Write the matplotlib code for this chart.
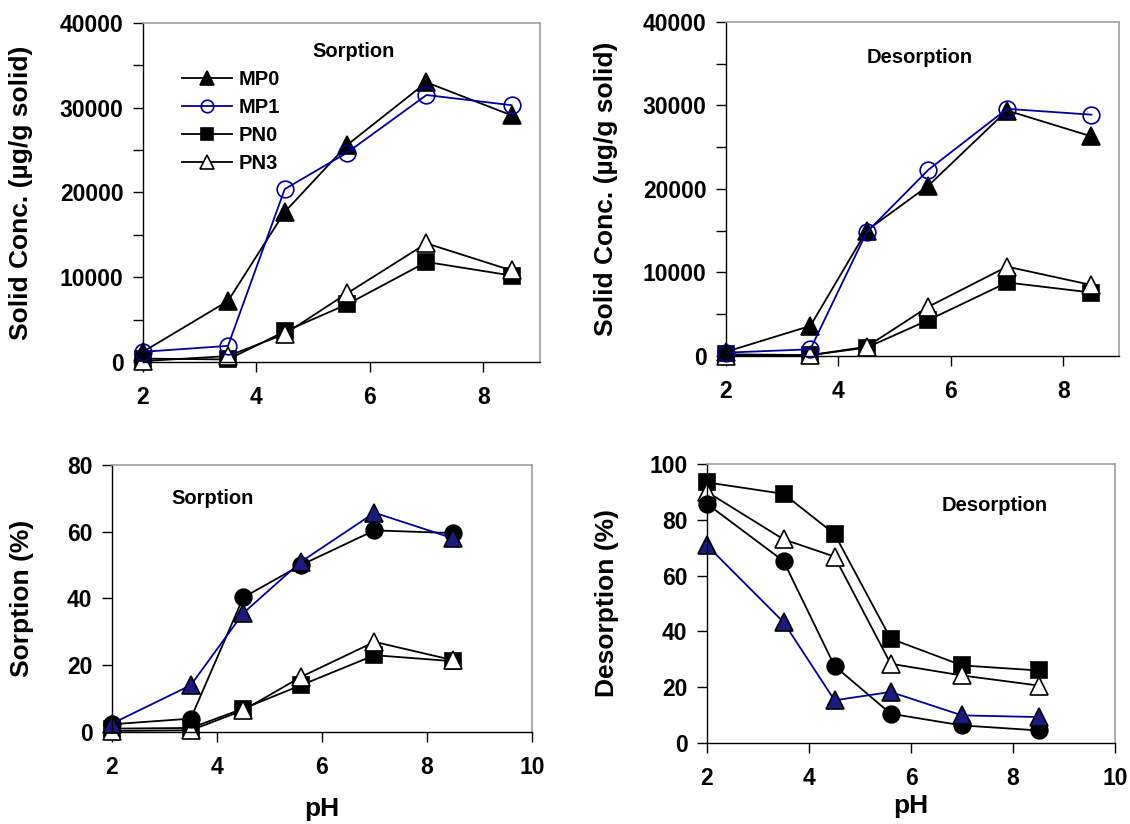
import matplotlib
matplotlib.use("Agg")
import matplotlib.pyplot as plt
from matplotlib.ticker import MultipleLocator

plt.rcParams["font.family"] = ["Liberation Sans", "DejaVu Sans"]
plt.rcParams["font.weight"] = "bold"

# pH values (same for all series)
ph = [2, 3.5, 4.5, 5.6, 7, 8.5]

# solid concentration, sorption (ug/g solid)
sorb_mp0 = [1200, 7200, 17700, 25600, 33000, 29100]
sorb_mp1 = [1200, 1900, 20400, 24700, 31500, 30300]
sorb_pn0 = [400, 300, 3600, 6800, 11800, 10200]
sorb_pn3 = [100, 700, 3300, 8100, 14000, 10800]

# solid concentration, desorption (ug/g solid)
des_mp0 = [500, 3600, 15000, 20400, 29400, 26300]
des_mp1 = [400, 800, 14800, 22300, 29600, 28900]
des_pn0 = [200, 100, 1000, 4300, 8800, 7600]
des_pn3 = [0, 100, 1100, 5900, 10700, 8500]

# sorption (%)
sorb_pct_blue = [2.5, 14, 35.6, 51, 65.7, 58]
sorb_pct_circ = [2.3, 4.0, 40.3, 50, 60.4, 59.6]
sorb_pct_sq = [1.0, 1.2, 7.0, 14, 23, 21.2]
sorb_pct_open = [0.3, 0.5, 6.5, 16.5, 27, 21.5]

# desorption (%)
des_pct_sq = [93.4, 89.3, 74.9, 37.4, 27.8, 26]
des_pct_open = [90, 73, 66.8, 28.4, 24.2, 20.6]
des_pct_circ = [85.7, 65.2, 27.6, 10.5, 6.3, 4.5]
des_pct_blue = [70.8, 43.3, 15.3, 18.3, 9.9, 9.3]

legend_labels = ["MP0", "MP1", "PN0", "PN3"]

BLUE = "#000099"
NAVY = "#1a1a80"
TICK_FS = 16.5
LABEL_FS = 19
NOTE_FS = 14.5

fig = plt.figure(figsize=(11.3, 8.24), dpi=100)
ax1 = fig.add_axes([0.1265, 0.5607, 0.3513, 0.4114])
ax2 = fig.add_axes([0.6425, 0.568, 0.3482, 0.4053])
ax3 = fig.add_axes([0.0991, 0.1117, 0.3717, 0.324])
ax4 = fig.add_axes([0.6257, 0.0983, 0.3611, 0.3386])


def style(ax, xmax):
    for s in ["top", "right"]:
        ax.spines[s].set_color("#a0a0a0")
        ax.spines[s].set_linewidth(1.2)
    for s in ["left", "bottom"]:
        ax.spines[s].set_color("black")
        ax.spines[s].set_linewidth(1.0)
    ax.set_xlim(2, xmax)
    ax.xaxis.set_major_locator(MultipleLocator(2))
    ax.tick_params(axis="x", which="both", direction="out", length=7,
                   width=1, pad=10, labelsize=TICK_FS)
    ax.tick_params(axis="y", which="both", direction="out", length=7,
                   width=1, pad=7, labelsize=TICK_FS)
    for lab in ax.get_xticklabels() + ax.get_yticklabels():
        lab.set_fontweight("bold")


def line(ax, y, marker, mfc, color="black", ms=12, label=None):
    ax.plot(ph, y, color=color, lw=1.3, marker=marker, ms=ms,
            mfc=mfc, mec="black" if color == "black" else color,
            mew=1.2, clip_on=False, label=label)


# top left: sorption, solid conc
line(ax1, sorb_pn0, "s", "black", ms=11, label=legend_labels[2])
line(ax1, sorb_pn3, "^", "white", ms=13, label=legend_labels[3])
line(ax1, sorb_mp0, "^", "black", ms=13, label=legend_labels[0])
line(ax1, sorb_mp1, "o", "none", color=BLUE, ms=12, label=legend_labels[1])
ax1.set_ylim(0, 40000)
ax1.yaxis.set_major_locator(MultipleLocator(10000))
ax1.yaxis.set_minor_locator(MultipleLocator(5000))
style(ax1, 9)
ax1.set_ylabel("Solid Conc. (\u00b5g/g solid)", fontsize=LABEL_FS,
               fontweight="bold", labelpad=19)
ax1.text(5.72, 36600, "Sorption", fontsize=NOTE_FS, fontweight="bold",
         ha="center", va="center")
h, l = ax1.get_legend_handles_labels()
order = [l.index(n) for n in legend_labels]
ax1.legend([h[i] for i in order], [l[i] for i in order], loc="upper left",
           bbox_to_anchor=(0.098, 0.862), frameon=False, borderpad=0,
           borderaxespad=0, handlelength=2.5, handletextpad=0.3,
           labelspacing=0.45, markerscale=0.75,
           prop={"size": NOTE_FS, "weight": "bold"})

# top right: desorption, solid conc
line(ax2, des_pn0, "s", "black", ms=11)
line(ax2, des_pn3, "^", "white", ms=13)
line(ax2, des_mp0, "^", "black", ms=13)
line(ax2, des_mp1, "o", "none", color=BLUE, ms=12)
ax2.set_ylim(0, 40000)
ax2.yaxis.set_major_locator(MultipleLocator(10000))
ax2.yaxis.set_minor_locator(MultipleLocator(5000))
style(ax2, 9)
ax2.set_ylabel("Solid Conc. (\u00b5g/g solid)", fontsize=LABEL_FS,
               fontweight="bold", labelpad=18)
ax2.text(5.45, 35700, "Desorption", fontsize=NOTE_FS, fontweight="bold",
         ha="center", va="center")

# bottom left: sorption %
line(ax3, sorb_pct_sq, "s", "black", ms=11)
line(ax3, sorb_pct_open, "^", "white", ms=13)
line(ax3, sorb_pct_circ, "o", "black", ms=12)
ax3.plot(ph, sorb_pct_blue, color=BLUE, lw=1.3, marker="^", ms=13,
         mfc=NAVY, mec="black", mew=1.2, clip_on=False)
ax3.set_ylim(0, 80)
ax3.yaxis.set_major_locator(MultipleLocator(20))
style(ax3, 10)
ax3.set_ylabel("Sorption (%)", fontsize=LABEL_FS, fontweight="bold",
               labelpad=24)
ax3.set_xlabel("pH", fontsize=LABEL_FS, fontweight="bold", labelpad=13)
ax3.text(3.92, 70, "Sorption", fontsize=NOTE_FS, fontweight="bold",
         ha="center", va="center")

# bottom right: desorption %
line(ax4, des_pct_sq, "s", "black", ms=11)
line(ax4, des_pct_open, "^", "white", ms=13)
line(ax4, des_pct_circ, "o", "black", ms=12)
ax4.plot(ph, des_pct_blue, color=BLUE, lw=1.3, marker="^", ms=13,
         mfc=NAVY, mec="black", mew=1.2, clip_on=False)
ax4.set_ylim(0, 100)
ax4.yaxis.set_major_locator(MultipleLocator(20))
style(ax4, 10)
ax4.set_ylabel("Desorption (%)", fontsize=LABEL_FS, fontweight="bold",
               labelpad=22)
ax4.set_xlabel("pH", fontsize=LABEL_FS, fontweight="bold", labelpad=3)
ax4.text(7.63, 85, "Desorption", fontsize=NOTE_FS, fontweight="bold",
         ha="center", va="center")

fig.savefig("out.png", dpi=100)
